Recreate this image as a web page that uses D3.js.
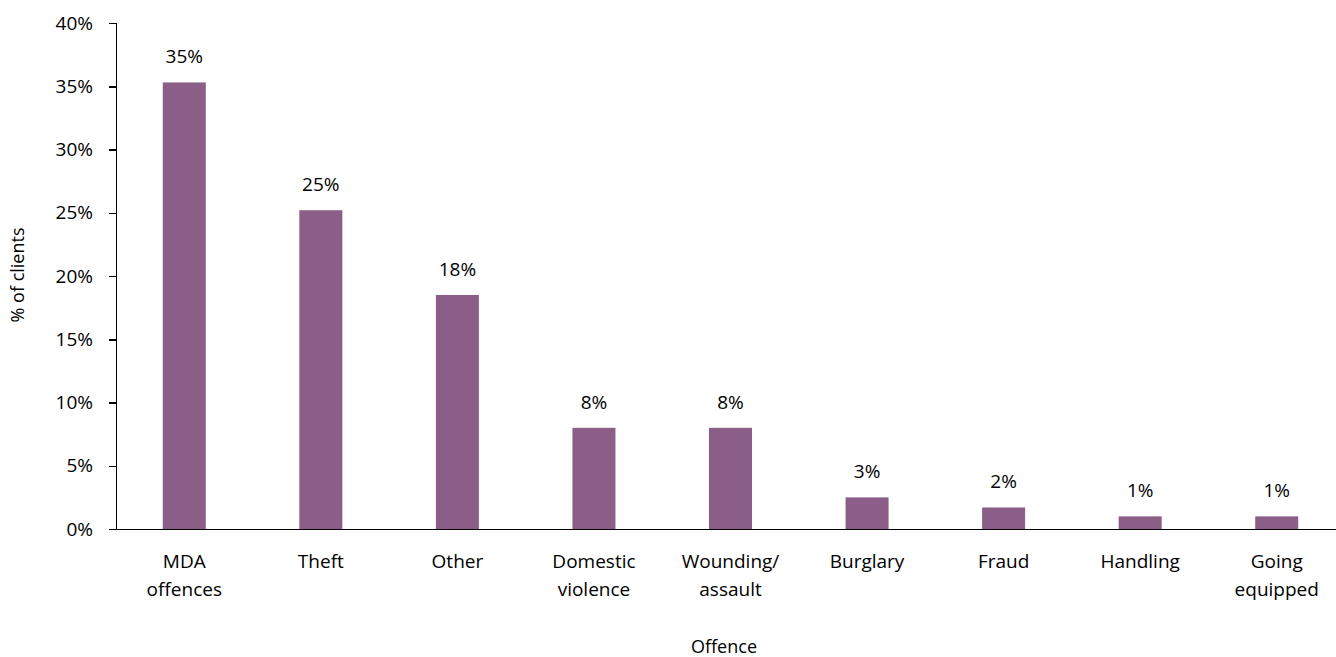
<!DOCTYPE html>
<html lang="en">
<head>
<meta charset="UTF-8">
<title>Offence</title>
<script src="https://cdn.jsdelivr.net/npm/d3@7"></script>
<style>
    html, body { margin: 0; padding: 0; background: #fff; }
    text { font-family: "Open Sans", "Noto Sans", sans-serif; fill: #000; }
    .axis path, .axis line { stroke: #000; stroke-width: 1.5px; shape-rendering: crispEdges; }
    .axis text { font-size: 19px; }
</style>
</head>
<body>
<script>
var categories = ["MDA offences", "Theft", "Other", "Domestic violence", "Wounding/ assault",
                  "Burglary", "Fraud", "Handling", "Going equipped"];
var catLines = [["MDA", "offences"], ["Theft"], ["Other"], ["Domestic", "violence"], ["Wounding/", "assault"],
                ["Burglary"], ["Fraud"], ["Handling"], ["Going", "equipped"]];
var values = [35.3, 25.2, 18.5, 8.0, 8.0, 2.5, 1.7, 1.0, 1.0];
var valueLabels = ["35%", "25%", "18%", "8%", "8%", "3%", "2%", "1%", "1%"];
var yTicks = [0, 5, 10, 15, 20, 25, 30, 35, 40];

var W = 1336, H = 657;
var x0 = 116, x1 = 1345, yTop = 23, yBot = 529;

var svg = d3.select("body").append("svg").attr("width", W).attr("height", H);

var x = d3.scaleBand().domain(categories).range([x0, x1]).padding(0);
var y = d3.scaleLinear().domain([0, 40]).range([yBot, yTop]);
var barW = x.bandwidth() * 0.315;

// bars
svg.selectAll("rect.bar").data(values).enter().append("rect")
    .attr("class", "bar")
    .attr("x", function(d, i) { return x(categories[i]) + x.bandwidth() / 2 - barW / 2; })
    .attr("y", function(d) { return y(d); })
    .attr("width", barW)
    .attr("height", function(d) { return y(0) - y(d); })
    .attr("fill", "#8b5e88");

// value labels
svg.selectAll("text.val").data(values).enter().append("text")
    .attr("class", "val")
    .attr("x", function(d, i) { return x(categories[i]) + x.bandwidth() / 2; })
    .attr("y", function(d) { return y(d) - 19; })
    .attr("text-anchor", "middle")
    .style("font-size", "19px")
    .text(function(d, i) { return valueLabels[i]; });

// y axis
var yAxis = d3.axisLeft(y).tickValues(yTicks).tickSize(7).tickPadding(16)
    .tickFormat(function(d) { return d + "%"; });
svg.append("g").attr("class", "axis y")
    .attr("transform", "translate(" + x0 + ",0)")
    .call(yAxis);

// x axis (line only; labels drawn below)
var xAxis = d3.axisBottom(x).tickSize(0).tickSizeOuter(0).tickFormat("");
svg.append("g").attr("class", "axis x")
    .attr("transform", "translate(0," + yBot + ")")
    .call(xAxis);

// category labels
var cat = svg.selectAll("text.cat").data(categories).enter().append("text")
    .attr("class", "cat")
    .attr("text-anchor", "middle")
    .style("font-size", "19px")
    .attr("transform", function(d) { return "translate(" + (x(d) + x.bandwidth() / 2) + "," + (yBot + 39) + ")"; });
cat.each(function(d, i) {
    var t = d3.select(this);
    catLines[i].forEach(function(line, j) {
        t.append("tspan").attr("x", 0).attr("dy", j === 0 ? 0 : 28).text(line);
    });
});

// axis titles
svg.append("text")
    .attr("x", 724).attr("y", 653)
    .attr("text-anchor", "middle")
    .style("font-size", "18px")
    .text("Offence");

svg.append("text")
    .attr("transform", "translate(24,275) rotate(-90)")
    .attr("text-anchor", "middle")
    .style("font-size", "18px")
    .text("% of clients");
</script>
</body>
</html>
